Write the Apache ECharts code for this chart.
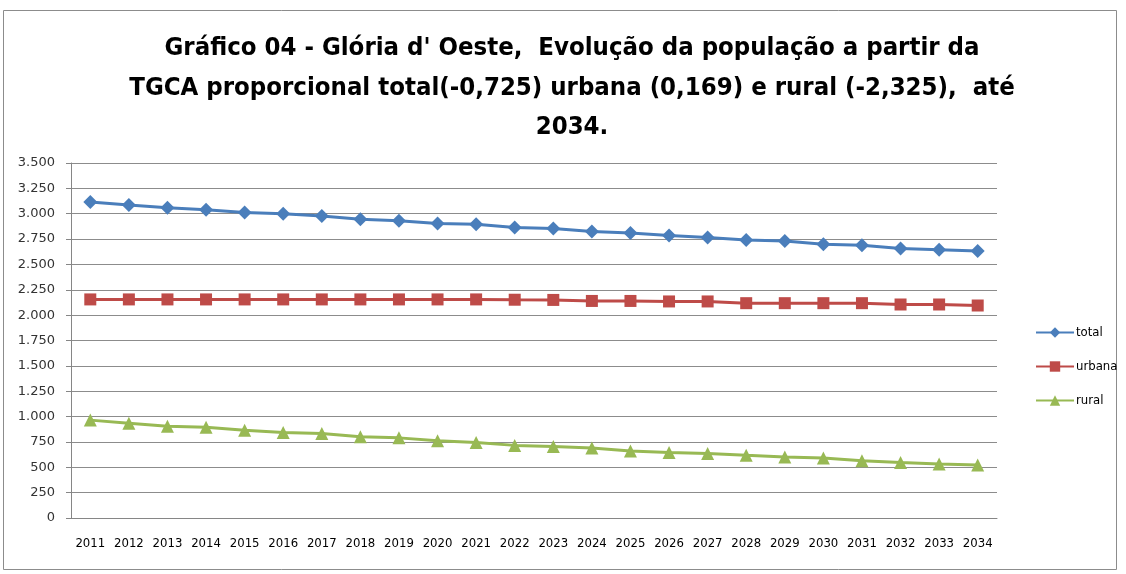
<!DOCTYPE html>
<html>
<head>
<meta charset="utf-8">
<script src="https://cdn.jsdelivr.net/npm/echarts@6/dist/echarts.min.js"></script>
<style>
  html, body { margin: 0; padding: 0; background: #fff; }
  #main { width: 1126px; height: 574px; }
</style>
</head>
<body>
<div id="main"></div>
<script>
var years = ['2011','2012','2013','2014','2015','2016','2017','2018','2019','2020','2021','2022',
             '2023','2024','2025','2026','2027','2028','2029','2030','2031','2032','2033','2034'];

var total  = [3115, 3085, 3060, 3040, 3012, 3000, 2978, 2946, 2930, 2903, 2896, 2864,
              2854, 2825, 2809, 2785, 2766, 2742, 2730, 2700, 2690, 2657, 2645, 2632];
var urbana = [2155, 2155, 2155, 2155, 2155, 2155, 2155, 2155, 2155, 2155, 2155, 2152,
              2150, 2140, 2140, 2135, 2135, 2118, 2118, 2118, 2118, 2105, 2105, 2095];
var rural  = [965, 935, 905, 895, 865, 842, 832, 800, 790, 762, 745, 716,
              705, 690, 660, 645, 635, 618, 602, 592, 565, 548, 532, 522];

var yTicks = [0, 250, 500, 750, 1000, 1250, 1500, 1750, 2000, 2250, 2500, 2750, 3000, 3250, 3500];

var titleLines = [
    'Gráfico 04 - Glória d\' Oeste,  Evolução da população a partir da',
    'TGCA proporcional total(-0,725) urbana (0,169) e rural (-2,325),  até',
    '2034.'
];

function fmtThousands(v) {
    return String(v).replace(/\B(?=(\d{3})+(?!\d))/g, '.');
}

var blue = '#4a7ebb';
var red = '#be4b48';
var green = '#98b954';
var narrow = '"DejaVu Sans Condensed", "Liberation Sans Narrow", sans-serif';

var chart = echarts.init(document.getElementById('main'));
chart.setOption({
    backgroundColor: '#fff',
    animation: false,
    title: {
        text: titleLines.join('\n'),
        left: 567,
        textAlign: 'center',
        top: 24,
        textStyle: {
            fontFamily: narrow,
            fontSize: 25.5,
            fontWeight: 'bold',
            color: '#000',
            lineHeight: 39.5
        }
    },
    graphic: [{
        type: 'rect',
        shape: { x: 3.5, y: 10.5, width: 1113, height: 559 },
        style: { fill: 'none', stroke: '#8c8c8c', lineWidth: 1 },
        silent: true
    }],
    legend: {
        orient: 'vertical',
        left: 1030,
        top: 321,
        itemGap: 21,
        itemWidth: 38,
        itemHeight: 13,
        textStyle: {
            fontFamily: narrow,
            fontSize: 13,
            color: '#000',
            padding: [0, 0, 0, -3]
        },
        data: ['total', 'urbana', 'rural']
    },
    grid: {
        left: 71,
        right: 129,
        top: 163,
        bottom: 56,
        containLabel: false
    },
    xAxis: {
        type: 'category',
        data: years,
        boundaryGap: true,
        axisLine: { lineStyle: { color: '#868686', width: 1 } },
        axisTick: { show: false },
        axisLabel: {
            interval: 0,
            margin: 19,
            fontFamily: narrow,
            fontSize: 13,
            color: '#000'
        }
    },
    yAxis: {
        type: 'value',
        min: yTicks[0],
        max: yTicks[yTicks.length - 1],
        interval: 250,
        axisLine: { show: true, lineStyle: { color: '#868686', width: 1 } },
        axisTick: { show: true, length: 5, lineStyle: { color: '#868686' } },
        splitLine: { lineStyle: { color: '#8c8c8c', width: 1 } },
        axisLabel: {
            margin: 16,
            fontFamily: 'DejaVu Sans, sans-serif',
            fontSize: 13,
            color: '#333',
            formatter: function (v) { return fmtThousands(v); }
        }
    },
    series: [{
        name: 'total',
        type: 'line',
        data: total,
        symbol: 'diamond',
        symbolSize: 14,
        lineStyle: { color: blue, width: 3 },
        itemStyle: { color: blue }
    }, {
        name: 'urbana',
        type: 'line',
        data: urbana,
        symbol: 'rect',
        symbolSize: 12,
        lineStyle: { color: red, width: 3 },
        itemStyle: { color: red }
    }, {
        name: 'rural',
        type: 'line',
        data: rural,
        symbol: 'triangle',
        symbolSize: 13,
        lineStyle: { color: green, width: 3 },
        itemStyle: { color: green }
    }]
});
</script>
</body>
</html>
